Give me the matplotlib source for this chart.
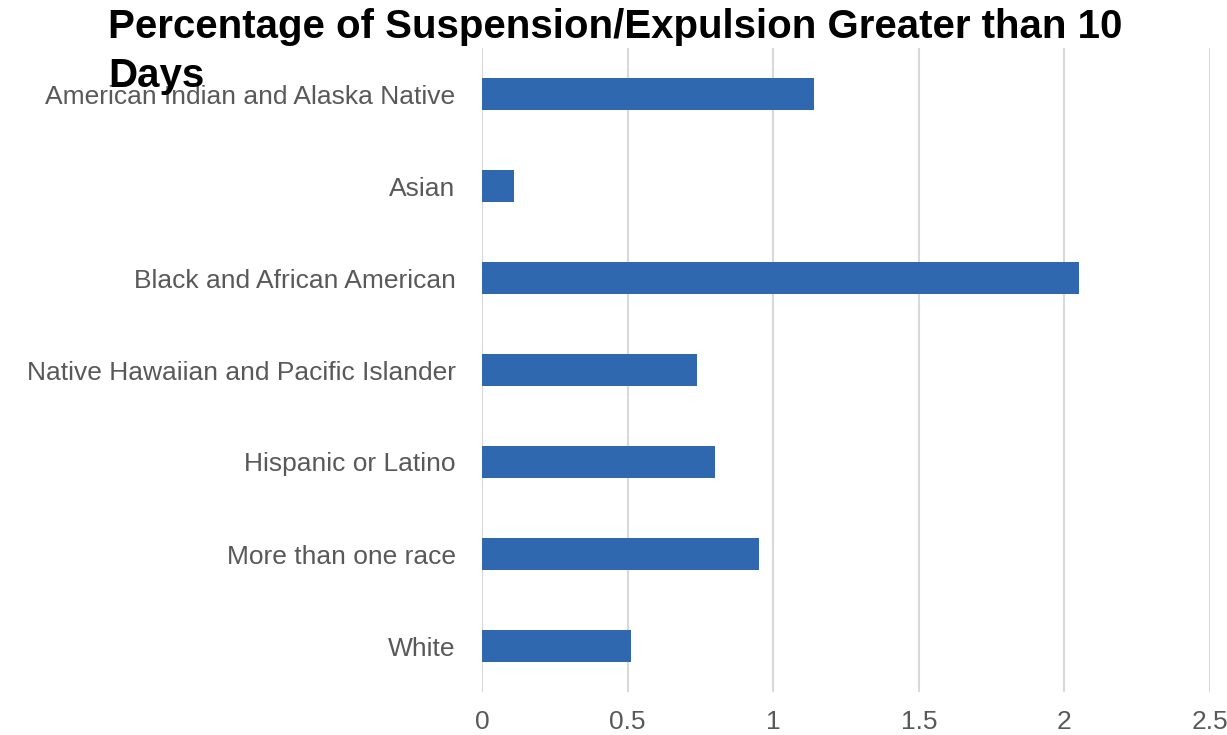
import matplotlib.pyplot as plt
import numpy as np

categories = [
    "American Indian and Alaska Native",
    "Asian",
    "Black and African American",
    "Native Hawaiian and Pacific Islander",
    "Hispanic or Latino",
    "More than one race",
    "White",
]
values = [1.14, 0.11, 2.05, 0.74, 0.80, 0.95, 0.51]
xticks = [0, 0.5, 1, 1.5, 2, 2.5]
title = "Percentage of Suspension/Expulsion Greater than 10\nDays"

plt.rcParams['font.family'] = ['Liberation Sans', 'DejaVu Sans']

fig = plt.figure(figsize=(12.27, 7.35), dpi=100)
ax = fig.add_axes([482 / 1227, 1 - 692 / 735, (1210 - 482) / 1227, (692 - 48) / 735])

y = np.arange(len(categories))
ax.barh(y, values, height=0.35, color='#3068B0', zorder=3)
ax.set_ylim(len(categories) - 0.5, -0.5)
ax.set_xlim(0, 2.5)
ax.set_xticks(xticks)
ax.set_xticklabels([f"{t:g}" for t in xticks])
ax.set_yticks(y)
ax.set_yticklabels(categories)

ax.grid(axis='x', color='#d9d9d9', linewidth=1.5, zorder=0)
ax.grid(axis='y', visible=False)
for s in ax.spines.values():
    s.set_visible(False)
ax.tick_params(axis='both', length=0, labelsize=19, labelcolor='#595959')
ax.tick_params(axis='y', pad=19)
ax.tick_params(axis='x', pad=13)

fig.text(108 / 1227, 1 - 8 / 735, title, ha='left', va='top',
         fontsize=29, fontweight='bold', color='black', linespacing=1.38)

fig.savefig("out.png", dpi=100)
